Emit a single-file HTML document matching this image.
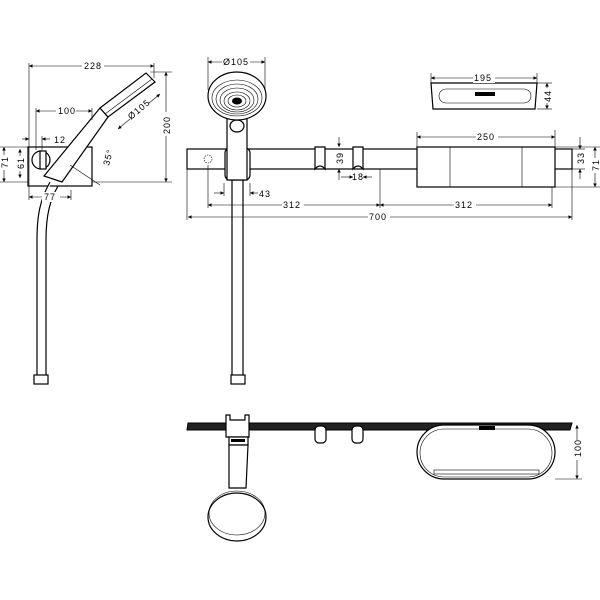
<!DOCTYPE html>
<html><head><meta charset="utf-8"><style>
html,body{margin:0;padding:0;background:#fff}
svg{display:block}
text{font-family:"Liberation Sans",sans-serif;font-size:9px;fill:#000;letter-spacing:1px}
.t{stroke:#000;stroke-width:0.6;fill:none}
.o{stroke:#000;stroke-width:1.2;fill:#fff}
</style></head><body>
<svg width="600" height="600" viewBox="0 0 600 600" xmlns="http://www.w3.org/2000/svg">
<defs>
<marker id="a" viewBox="0 0 6 6" refX="6" refY="3" markerWidth="6" markerHeight="6" orient="auto-start-reverse"><path d="M0,0 L6,3 L0,6z" fill="#000"/></marker>
</defs>

<!-- LEFT SIDE VIEW -->
<g>
<rect x="28" y="147" width="64" height="39" class="o" stroke-width="0.8"/>
<path d="M50,182 C40,200 37,215 37,240 L37,375 M58,186 C50,200 46,215 46,240 L46,375" class="o" fill="none"/>
<rect x="34" y="375" width="14" height="9" class="o"/>
<path d="M44,176 L100,108 L108,117 L62,182 Z" class="o"/>
<circle cx="41" cy="160" r="9" class="o"/>
<rect x="40" y="151" width="6" height="18" class="o"/>
<path d="M100,108 L146,73 L155,82 L108,117 Z" class="o"/>
<line x1="105" y1="114" x2="152" y2="79" class="t" stroke-width="1.2"/>
<line x1="29" y1="66" x2="154" y2="66" class="t" marker-start="url(#a)" marker-end="url(#a)"/>
<rect x="82" y="61" width="22" height="10" fill="#fff"/><text x="84" y="69">228</text>
<line x1="29" y1="63" x2="29" y2="200" class="t"/>
<line x1="154" y1="63" x2="154" y2="78" class="t"/>
<line x1="36" y1="111" x2="92" y2="111" class="t" marker-start="url(#a)" marker-end="url(#a)"/>
<rect x="56" y="106" width="20" height="10" fill="#fff"/><text x="58" y="114">100</text>
<line x1="36" y1="108" x2="36" y2="150" class="t"/>
<line x1="92" y1="108" x2="92" y2="120" class="t"/>
<line x1="22" y1="139" x2="29" y2="139" class="t" marker-end="url(#a)"/>
<line x1="50" y1="139" x2="42" y2="139" class="t" marker-end="url(#a)"/>
<text x="54" y="143">12</text>
<line x1="42" y1="136" x2="42" y2="150" class="t"/>
<line x1="166" y1="72" x2="166" y2="182" class="t" marker-start="url(#a)" marker-end="url(#a)"/>
<rect x="161" y="112" width="10" height="24" fill="#fff"/>
<text transform="translate(170,134) rotate(-90)">200</text>
<line x1="150" y1="72" x2="172" y2="72" class="t"/>
<line x1="92" y1="182" x2="172" y2="182" class="t"/>
<line x1="4" y1="147" x2="4" y2="182" class="t" marker-start="url(#a)" marker-end="url(#a)"/>
<rect x="0" y="155" width="9" height="15" fill="#fff"/>
<text transform="translate(8,168) rotate(-90)">71</text>
<line x1="0" y1="147" x2="28" y2="147" class="t"/>
<line x1="0" y1="182" x2="28" y2="182" class="t"/>
<line x1="20" y1="149" x2="20" y2="178" class="t" marker-start="url(#a)" marker-end="url(#a)"/>
<rect x="16" y="156" width="9" height="15" fill="#fff"/>
<text transform="translate(24,169) rotate(-90)">61</text>
<line x1="29" y1="197" x2="71" y2="197" class="t" marker-start="url(#a)" marker-end="url(#a)"/>
<rect x="42" y="192" width="18" height="10" fill="#fff"/><text x="44" y="200">77</text>
<line x1="71" y1="190" x2="71" y2="200" class="t"/>
<line x1="70" y1="165" x2="100" y2="185" class="t"/>
<text transform="translate(109,166) rotate(-75)">35°</text>
<line x1="118" y1="129" x2="160" y2="94" class="t" marker-start="url(#a)" marker-end="url(#a)"/>
<rect x="126" y="104" width="24" height="12" fill="#fff" transform="rotate(-40 138 110)"/>
<text transform="translate(131,120) rotate(-40)">Ø105</text>
</g>

<!-- FRONT VIEW -->
<g>
<rect x="187" y="149" width="385" height="20" class="o"/>
<circle cx="208" cy="159" r="4" class="t" stroke-dasharray="1.5,1"/>
<circle cx="548" cy="159" r="4" class="t" stroke-dasharray="1.5,1"/>
<line x1="232" y1="180" x2="232" y2="375" class="o"/>
<line x1="243" y1="180" x2="243" y2="375" class="o"/>
<rect x="231" y="375" width="14" height="9" class="o"/>
<rect x="225" y="148" width="25" height="32" rx="5" class="o"/>
<path d="M227,118 L247,118 L247,180 L227,180 Z" class="o"/>
<ellipse cx="237" cy="126" rx="7" ry="6" class="o"/>
<ellipse cx="237" cy="96" rx="29" ry="24" class="o"/>
<ellipse cx="237" cy="98" rx="25" ry="18" class="t" stroke-width="1.8"/>
<ellipse cx="237" cy="99" rx="21" ry="15" class="t" stroke-width="1.8"/>
<ellipse cx="237" cy="100" rx="17" ry="12" class="t" stroke-width="1.8"/>
<ellipse cx="237" cy="101" rx="13" ry="9" class="t" stroke-width="1.8"/>
<ellipse cx="237" cy="101" rx="9" ry="6" class="t" stroke-width="1.8"/>
<ellipse cx="237" cy="101" rx="5" ry="3.5" fill="#000"/>
<path d="M315,147 L325,147 L325,169 Q320,163 315,169 Z" class="o"/>
<path d="M353,147 L363,147 L363,169 Q358,163 353,169 Z" class="o"/>
<rect x="417" y="147" width="138" height="40" class="o"/>
<line x1="450" y1="147" x2="450" y2="187" class="t"/>
<line x1="522" y1="147" x2="522" y2="187" class="t"/>
<path d="M431,83 L537,83 L535,109 L433,109 Z" class="o"/>
<rect x="439" y="89" width="92" height="14" rx="7" class="t"/>
<rect x="475" y="92" width="20" height="4" fill="#000"/>
<line x1="208" y1="62" x2="265" y2="62" class="t" marker-start="url(#a)" marker-end="url(#a)"/>
<rect x="222" y="57" width="28" height="10" fill="#fff"/><text x="223" y="65">Ø105</text>
<line x1="208" y1="57" x2="208" y2="90" class="t"/><line x1="265" y1="57" x2="265" y2="90" class="t"/>
<line x1="431" y1="78" x2="537" y2="78" class="t" marker-start="url(#a)" marker-end="url(#a)"/>
<rect x="473" y="73" width="22" height="10" fill="#fff"/><text x="474" y="81">195</text>
<line x1="431" y1="73" x2="431" y2="85" class="t"/><line x1="537" y1="73" x2="537" y2="85" class="t"/>
<line x1="547" y1="83" x2="547" y2="109" class="t" marker-start="url(#a)" marker-end="url(#a)"/>
<rect x="543" y="88" width="9" height="15" fill="#fff"/><text transform="translate(551,102) rotate(-90)">44</text>
<line x1="537" y1="83" x2="552" y2="83" class="t"/><line x1="537" y1="109" x2="552" y2="109" class="t"/>
<line x1="417" y1="137" x2="555" y2="137" class="t" marker-start="url(#a)" marker-end="url(#a)"/>
<rect x="476" y="132" width="22" height="10" fill="#fff"/><text x="477" y="140">250</text>
<line x1="417" y1="132" x2="417" y2="147" class="t"/><line x1="555" y1="130" x2="555" y2="147" class="t"/>
<line x1="339" y1="137" x2="339" y2="147" class="t" marker-end="url(#a)"/>
<line x1="339" y1="180" x2="339" y2="169" class="t" marker-end="url(#a)"/>
<text transform="translate(343,164) rotate(-90)">39</text>
<line x1="341" y1="177" x2="353" y2="177" class="t" marker-end="url(#a)"/>
<line x1="372" y1="177" x2="363" y2="177" class="t" marker-end="url(#a)"/>
<text x="352" y="180">18</text>
<line x1="214" y1="193" x2="224" y2="193" class="t" marker-end="url(#a)"/>
<line x1="258" y1="193" x2="250" y2="193" class="t" marker-end="url(#a)"/>
<text x="259" y="197">43</text>
<line x1="224" y1="183" x2="224" y2="196" class="t"/>
<line x1="250" y1="183" x2="250" y2="196" class="t"/>
<line x1="208" y1="205" x2="380" y2="205" class="t" marker-start="url(#a)" marker-end="url(#a)"/>
<rect x="282" y="200" width="22" height="10" fill="#fff"/><text x="283" y="208">312</text>
<line x1="380" y1="205" x2="552" y2="205" class="t" marker-start="url(#a)" marker-end="url(#a)"/>
<rect x="454" y="200" width="22" height="10" fill="#fff"/><text x="455" y="208">312</text>
<line x1="208" y1="165" x2="208" y2="208" class="t"/>
<line x1="380" y1="169" x2="380" y2="208" class="t"/>
<line x1="552" y1="187" x2="552" y2="208" class="t"/>
<line x1="188" y1="217" x2="572" y2="217" class="t" marker-start="url(#a)" marker-end="url(#a)"/>
<rect x="368" y="212" width="22" height="10" fill="#fff"/><text x="369" y="220">700</text>
<line x1="187" y1="169" x2="187" y2="220" class="t"/>
<line x1="572" y1="169" x2="572" y2="220" class="t"/>
<line x1="580" y1="137" x2="580" y2="149" class="t" marker-end="url(#a)"/>
<line x1="580" y1="179" x2="580" y2="169" class="t" marker-end="url(#a)"/>
<text transform="translate(584,164) rotate(-90)">33</text>
<line x1="572" y1="149" x2="585" y2="149" class="t"/>
<line x1="572" y1="169" x2="585" y2="169" class="t"/>
<line x1="595" y1="147" x2="595" y2="187" class="t" marker-start="url(#a)" marker-end="url(#a)"/>
<rect x="591" y="158" width="9" height="15" fill="#fff"/><text transform="translate(599,171) rotate(-90)">71</text>
<line x1="555" y1="147" x2="600" y2="147" class="t"/>
<line x1="555" y1="187" x2="600" y2="187" class="t"/>
</g>

<!-- TOP VIEW -->
<g>
<path d="M188,423 L572,423 L570,430 L187,430 Z" fill="#222" stroke="#000" stroke-width="1"/>
<rect x="417" y="425" width="138" height="54" rx="27" class="o" stroke-width="1.6"/>
<rect x="420" y="429" width="132" height="48" rx="24" class="t"/>
<rect x="434" y="470" width="105" height="4" class="t" fill="#ddd"/>
<rect x="479" y="426" width="16" height="4" fill="#000"/>
<rect x="315" y="426" width="11" height="17" rx="4" class="o"/>
<rect x="352" y="426" width="11" height="17" rx="4" class="o"/>
<path d="M226,415 L230,415 L230,420 L245,420 L245,415 L249,415 L249,437 L226,437 Z" class="o"/>
<rect x="229" y="437" width="19" height="8" class="o"/>
<rect x="231" y="439" width="14" height="3" fill="#000"/>
<path d="M229,445 L248,445 L246,488 L229,488 Z" class="o"/>
<ellipse cx="237" cy="517" rx="29" ry="24" class="o" stroke-width="1.6"/>
<ellipse cx="237" cy="513" rx="28" ry="22" class="t"/>
<line x1="577" y1="425" x2="577" y2="479" class="t" marker-start="url(#a)" marker-end="url(#a)"/>
<rect x="573" y="440" width="9" height="20" fill="#fff"/><text transform="translate(581,457) rotate(-90)">100</text>
<line x1="555" y1="479" x2="582" y2="479" class="t"/>
</g>
</svg>
</body></html>
